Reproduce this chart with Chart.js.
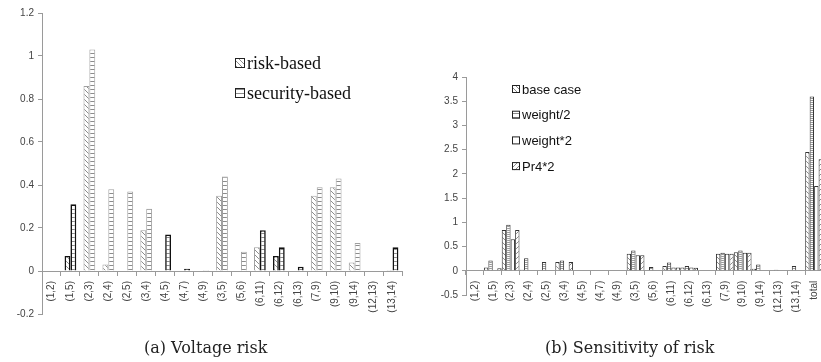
<!DOCTYPE html>
<html>
<head>
<meta charset="utf-8">
<script src="https://cdn.jsdelivr.net/npm/chart.js@4.4.1/dist/chart.umd.min.js"></script>
<style>
  html, body { margin: 0; padding: 0; background: #fff; width: 821px; height: 362px; overflow: hidden; }
  .box { position: absolute; }
  #boxA { left: 0; top: 0; width: 412px; height: 340px; }
  #boxB { left: 425px; top: 0; width: 410px; height: 330px; }
  .cap { position: absolute; top: 338px; font-family: "DejaVu Serif", serif; font-size: 16px; color: #222; white-space: nowrap; }
</style>
</head>
<body>
<div class="box" id="boxA"><canvas id="voltage"></canvas></div>
<div class="box" id="boxB"><canvas id="sensitivity"></canvas></div>
<div class="cap" style="left:144px">(a) Voltage risk</div>
<div class="cap" style="left:545px">(b) Sensitivity of risk</div>
<script>
// (a) Voltage risk
const linesA = ['(1,2)', '(1,5)', '(2,3)', '(2,4)', '(2,5)', '(3,4)', '(4,5)', '(4,7)', '(4,9)', '(3,5)',
  '(5,6)', '(6,11)', '(6,12)', '(6,13)', '(7,9)', '(9,10)', '(9,14)', '(12,13)', '(13,14)'];
const riskBased = [0, 0.07, 0.86, 0.03, 0, 0.19, 0, 0, 0, 0.35, 0, 0.11, 0.07, 0, 0.35, 0.39, 0.04, 0, 0.005];
const securityBased = [0, 0.31, 1.03, 0.38, 0.37, 0.29, 0.17, 0.01, 0.005, 0.44, 0.09, 0.19, 0.11, 0.02, 0.39, 0.43, 0.13, 0, 0.11];
const yTicksA = [-0.2, 0, 0.2, 0.4, 0.6, 0.8, 1, 1.2];

// (b) Sensitivity of risk
const linesB = linesA.concat(['total']);
const baseCase = [0, 0.07, 0.84, 0.02, 0, 0.18, 0, 0, 0, 0.35, 0.01, 0.1, 0.07, 0, 0.35, 0.38, 0.04, 0, 0.01, 2.45];
const weightHalf = [0, 0.21, 0.95, 0.26, 0.18, 0.21, 0, 0, 0, 0.42, 0.08, 0.17, 0.1, 0, 0.37, 0.42, 0.13, 0.02, 0.1, 3.6];
const weightDouble = [0, 0.01, 0.65, 0, 0, 0.01, 0, 0, 0, 0.32, 0, 0.07, 0.07, 0, 0.35, 0.37, 0, 0, 0, 1.75];
const pr4Double = [0, 0.05, 0.84, 0, 0, 0.18, 0, 0, 0, 0.32, 0, 0.07, 0.06, 0, 0.35, 0.37, 0, 0, 0, 2.3];
const yTicksB = [-0.5, 0, 0.5, 1, 1.5, 2, 2.5, 3, 3.5, 4];

// bars drawn with a heavy black outline in the original figure
const heavyRisk = ['(1,5)', '(6,12)'];
const heavySecurity = ['(1,5)', '(4,5)', '(4,7)', '(6,11)', '(6,12)', '(6,13)', '(13,14)'];

function makePattern(size, draw) {
  const c = document.createElement('canvas');
  c.width = size;
  c.height = size;
  const g = c.getContext('2d');
  g.fillStyle = '#fff';
  g.fillRect(0, 0, size, size);
  g.strokeStyle = '#8c8c8c';
  g.lineWidth = 1;
  draw(g, size);
  return g.createPattern(c, 'repeat');
}

const backslash = makePattern(5, (g, s) => {
  g.beginPath();
  g.moveTo(0, 0); g.lineTo(s, s);
  g.moveTo(-1, s - 1); g.lineTo(1, s + 1);
  g.moveTo(s - 1, -1); g.lineTo(s + 1, 1);
  g.stroke();
});
const slash = makePattern(5, (g, s) => {
  g.beginPath();
  g.moveTo(0, s); g.lineTo(s, 0);
  g.moveTo(-1, 1); g.lineTo(1, -1);
  g.moveTo(s - 1, s + 1); g.lineTo(s + 1, s - 1);
  g.stroke();
});
const stripes = makePattern(4, (g, s) => {
  g.beginPath();
  g.moveTo(0, 1.5); g.lineTo(s, 1.5);
  g.stroke();
});
const fineStripes = makePattern(2, (g, s) => {
  g.strokeStyle = '#9a9a9a';
  g.beginPath();
  g.moveTo(0, 0.5); g.lineTo(s, 0.5);
  g.stroke();
});

// legend drawn inside the plot area, like the original
const floatLegend = {
  id: 'floatLegend',
  afterDraw(chart, args, opts) {
    const { ctx, chartArea } = chart;
    ctx.save();
    ctx.font = opts.font;
    ctx.textBaseline = 'middle';
    chart.data.datasets.forEach((ds, i) => {
      const x = chartArea.left + opts.x;
      const y = chartArea.top + opts.y + i * opts.gap;
      ctx.fillStyle = ds.legendFill;
      ctx.fillRect(x, y - opts.box / 2, opts.box, opts.box);
      ctx.strokeStyle = '#222';
      ctx.lineWidth = 1;
      ctx.strokeRect(x + 0.5, y - opts.box / 2 + 0.5, opts.box - 1, opts.box - 1);
      ctx.fillStyle = '#111';
      ctx.fillText(ds.label, x + opts.box + 2, y + 1);
    });
    ctx.restore();
  },
};

function tickSetter(list) {
  return (scale) => {
    scale.ticks = list.map((v) => ({ value: v }));
  };
}

const tickFont = { family: 'Liberation Sans', size: 10 };
const axisGrey = '#9a9a9a';
const plainNumber = (v) => String(Math.round(v * 10) / 10);

new Chart(document.getElementById('voltage'), {
  type: 'bar',
  data: {
    labels: linesA,
    datasets: [
      {
        label: 'risk-based',
        data: riskBased,
        backgroundColor: backslash,
        legendFill: backslash,
        borderColor: (c) => (heavyRisk.includes(linesA[c.dataIndex]) ? '#111' : '#a0a0a0'),
        borderWidth: (c) => (heavyRisk.includes(linesA[c.dataIndex]) ? 1.6 : 1),
      },
      {
        label: 'security-based',
        data: securityBased,
        backgroundColor: stripes,
        legendFill: stripes,
        borderColor: (c) => (heavySecurity.includes(linesA[c.dataIndex]) ? '#111' : '#a0a0a0'),
        borderWidth: (c) => (heavySecurity.includes(linesA[c.dataIndex]) ? 1.6 : 1),
      },
    ],
  },
  options: {
    animation: false,
    responsive: true,
    maintainAspectRatio: false,
    layout: { padding: { left: 4, top: 13, right: 10, bottom: 26 } },
    datasets: { bar: { categoryPercentage: 0.62, barPercentage: 1 } },
    plugins: {
      legend: { display: false },
      tooltip: { enabled: false },
      floatLegend: { x: 193, y: 50, gap: 30, box: 10, font: '18px "Liberation Serif"' },
    },
    scales: {
      x: {
        position: { y: 0 },
        grid: { drawOnChartArea: false, tickLength: 4, color: axisGrey, offset: true },
        border: { color: axisGrey },
        ticks: { minRotation: 90, maxRotation: 90, autoSkip: false, padding: 6, font: tickFont, color: '#444' },
      },
      y: {
        min: -0.2,
        max: 1.2,
        afterBuildTicks: tickSetter(yTicksA),
        afterFit: (s) => { s.width = 38; },
        grid: { drawOnChartArea: false, tickLength: 4, color: axisGrey },
        border: { color: axisGrey },
        ticks: { padding: 4, font: tickFont, color: '#444', callback: plainNumber },
      },
    },
  },
  plugins: [floatLegend],
});

new Chart(document.getElementById('sensitivity'), {
  type: 'bar',
  data: {
    labels: linesB,
    datasets: [
      { label: 'base case', data: baseCase, backgroundColor: backslash, legendFill: backslash },
      { label: 'weight/2', data: weightHalf, backgroundColor: fineStripes, legendFill: stripes },
      { label: 'weight*2', data: weightDouble, backgroundColor: '#fff', legendFill: '#fff' },
      { label: 'Pr4*2', data: pr4Double, backgroundColor: slash, legendFill: slash },
    ],
  },
  options: {
    animation: false,
    responsive: true,
    maintainAspectRatio: false,
    layout: { padding: { left: 4, top: 77, right: 12, bottom: 35 } },
    datasets: { bar: { categoryPercentage: 1, barPercentage: 0.98, borderColor: '#333', borderWidth: 1 } },
    plugins: {
      legend: { display: false },
      tooltip: { enabled: false },
      floatLegend: { x: 46, y: 12, gap: 25.7, box: 8, font: '13px "Liberation Sans"' },
    },
    scales: {
      x: {
        position: { y: 0 },
        grid: { drawOnChartArea: false, tickLength: 4, color: axisGrey, offset: true },
        border: { color: axisGrey },
        ticks: { minRotation: 90, maxRotation: 90, autoSkip: false, padding: 6, font: tickFont, color: '#444' },
      },
      y: {
        min: -0.5,
        max: 4,
        afterBuildTicks: tickSetter(yTicksB),
        afterFit: (s) => { s.width = 37; },
        grid: { drawOnChartArea: false, tickLength: 4, color: axisGrey },
        border: { color: axisGrey },
        ticks: { padding: 4, font: tickFont, color: '#444', callback: plainNumber },
      },
    },
  },
  plugins: [floatLegend],
});
</script>
</body>
</html>
